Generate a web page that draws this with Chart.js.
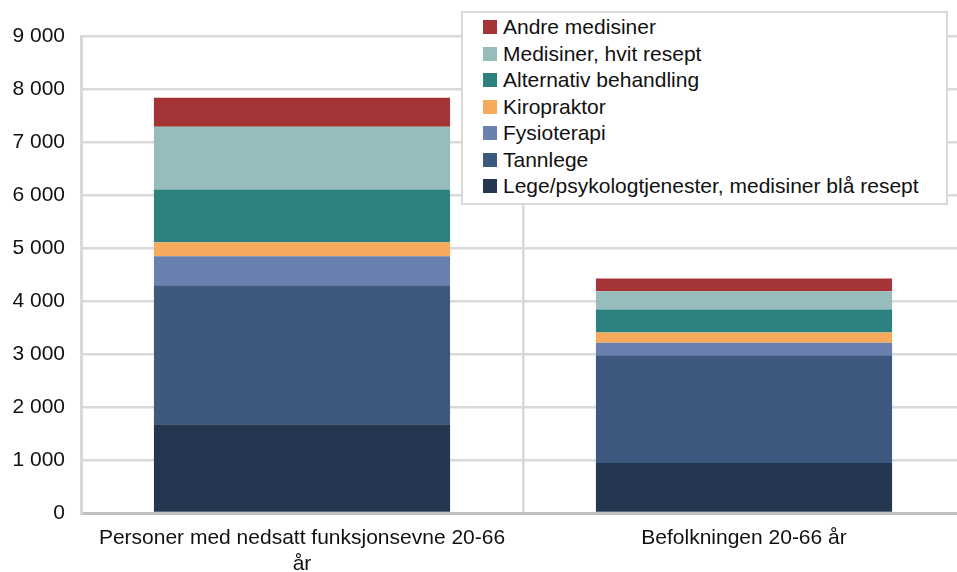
<!DOCTYPE html>
<html>
<head>
<meta charset="utf-8">
<script src="https://cdn.jsdelivr.net/npm/chart.js@4/dist/chart.umd.min.js"></script>
<style>
  html, body { margin: 0; padding: 0; background: #fff; overflow: hidden; width: 957px; height: 572px; }
  #wrap { position: absolute; left: 0; top: 0; width: 980px; height: 572px; }
  #legend { position: absolute; left: 461px; top: 11px; width: 483px; height: 189px; background: #fff;
            border: 2px solid #D9D9D9; font-family: "Liberation Sans", Arial, sans-serif; font-size: 21px; color: #111;
            padding-top: 1px; box-sizing: content-box; }
  .item { position: relative; height: 26.5px; line-height: 26.5px; padding-left: 40px; white-space: nowrap; }
  .sw { position: absolute; left: 20px; top: 6px; width: 14px; height: 14px; }
</style>
</head>
<body>
<div id="wrap"><canvas id="c" width="980" height="572"></canvas></div>
<div id="legend"></div>
<script>
const categories = [["Personer med nedsatt funksjonsevne 20-66", "år"], "Befolkningen 20-66 år"];
const seriesNames = ["Lege/psykologtjenester, medisiner blå resept", "Tannlege", "Fysioterapi", "Kiropraktor", "Alternativ behandling", "Medisiner, hvit resept", "Andre medisiner"];
const lege = [1675, 944];
const tannlege = [2623, 2033];
const fysioterapi = [548, 233];
const kiropraktor = [264, 196];
const alternativ = [995, 434];
const hvitResept = [1182, 345];
const andre = [548, 240];
const yTicks = [0, 1000, 2000, 3000, 4000, 5000, 6000, 7000, 8000, 9000];
const colors = ["#243650", "#3E5980", "#6A80AE", "#F5AA5C", "#2B827F", "#97BCBC", "#A43436"];

const values = [lege, tannlege, fysioterapi, kiropraktor, alternativ, hvitResept, andre];
const datasets = values.map((v, i) => ({
  label: seriesNames[i], data: v, backgroundColor: colors[i], borderWidth: 0,
  barPercentage: 0.67, categoryPercentage: 1.0
}));

const font = { family: "'Liberation Sans', Arial, sans-serif", size: 21, lineHeight: 1.25 };
new Chart(document.getElementById('c'), {
  type: 'bar',
  data: { labels: categories, datasets },
  options: {
    responsive: false, animation: false,
    layout: { padding: { top: 36, right: 15, left: 0, bottom: 0 } },
    plugins: { legend: { display: false }, tooltip: { enabled: false } },
    scales: {
      x: {
        stacked: true,
        grid: { offset: true, lineWidth: 2.5, drawTicks: false, color: '#D9D9D9' },
        border: { color: '#BFBFBF', width: 3 },
        ticks: { font, color: '#111', padding: 12, maxRotation: 0, autoSkip: false },
        afterFit: s => { s.height = 59; }
      },
      y: {
        stacked: true, min: 0, max: 9000,
        afterBuildTicks: s => { s.ticks = yTicks.map(v => ({ value: v })); },
        grid: { color: '#D9D9D9', lineWidth: 2.5, drawTicks: false },
        border: { color: '#D9D9D9', width: 3 },
        ticks: { font: { family: font.family, size: 21 }, color: '#111', padding: 16,
          callback: v => String(v).replace(/\B(?=(\d{3})+(?!\d))/g, ' ') },
        afterFit: s => { s.width = 81; }
      }
    }
  }
});

const lg = document.getElementById('legend');
for (let i = seriesNames.length - 1; i >= 0; i--) {
  const d = document.createElement('div');
  d.className = 'item';
  const sw = document.createElement('span');
  sw.className = 'sw'; sw.style.background = colors[i];
  d.appendChild(sw);
  d.appendChild(document.createTextNode(seriesNames[i]));
  lg.appendChild(d);
}
</script>
</body>
</html>
